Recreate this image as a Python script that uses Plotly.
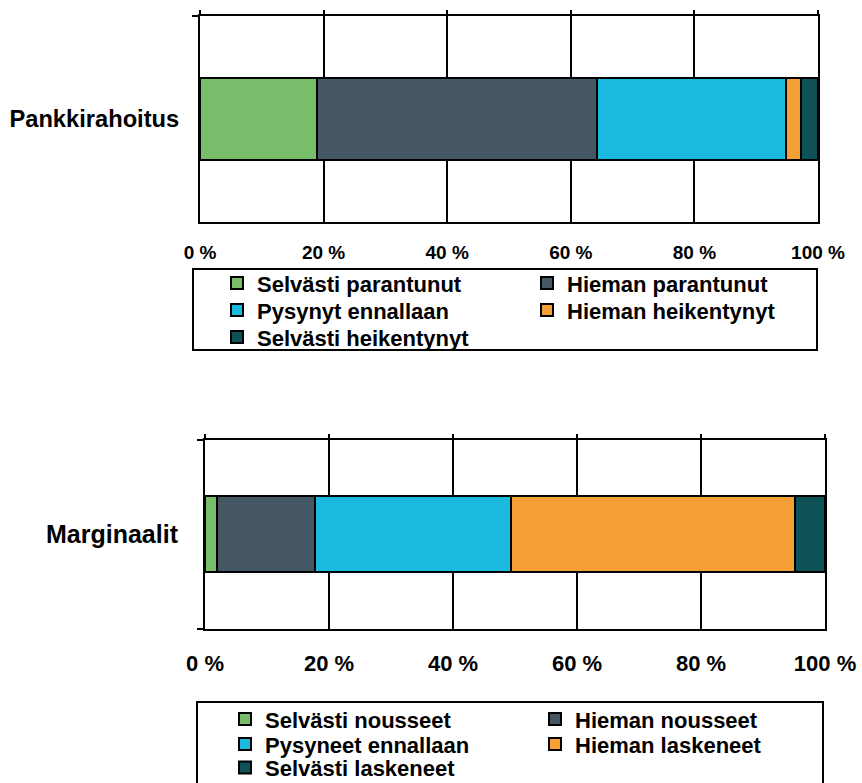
import plotly.graph_objects as go

# ---------------- data ----------------
categories_top = ["Pankkirahoitus"]
series_top = ["Selvästi parantunut", "Hieman parantunut", "Pysynyt ennallaan",
              "Hieman heikentynyt", "Selvästi heikentynyt"]
values_top = [19.0, 45.2, 30.7, 2.3, 2.8]

categories_bottom = ["Marginaalit"]
series_bottom = ["Selvästi nousseet", "Hieman nousseet", "Pysyneet ennallaan",
                 "Hieman laskeneet", "Selvästi laskeneet"]
values_bottom = [2.0, 15.8, 31.6, 45.8, 4.8]

colors = ["#78BE6A", "#455763", "#1AB9DE", "#F5A034", "#0E5258"]
tick_vals = [0, 20, 40, 60, 80, 100]
tick_text = ["0 %", "20 %", "40 %", "60 %", "80 %", "100 %"]

# ---------------- layout helpers ----------------
W, H = 862, 783
FONT = "Liberation Sans, Arial, sans-serif"


def px(x):
    return x / W


def py(y):
    return 1 - y / H


legend_rows_top = ["legend", "legend", "legend2", "legend2", "legend3"]
legend_rows_bottom = ["legend4", "legend4", "legend5", "legend5", "legend6"]

fig = go.Figure()
for name, val, col, lg in zip(series_top, values_top, colors, legend_rows_top):
    fig.add_trace(go.Bar(
        y=categories_top, x=[val], name=name, orientation="h", width=0.4,
        marker=dict(color=col, line=dict(color="black", width=2)),
        xaxis="x", yaxis="y", legend=lg, hoverinfo="name+x"))
for name, val, col, lg in zip(series_bottom, values_bottom, colors, legend_rows_bottom):
    fig.add_trace(go.Bar(
        y=categories_bottom, x=[val], name=name, orientation="h", width=0.4,
        marker=dict(color=col, line=dict(color="black", width=2)),
        xaxis="x2", yaxis="y2", legend=lg, hoverinfo="name+x"))

# empty helper traces so the top tick-stub axes get drawn
fig.add_trace(go.Scatter(x=[None], y=categories_top, xaxis="x3", yaxis="y",
                         mode="markers", showlegend=False, hoverinfo="skip"))
fig.add_trace(go.Scatter(x=[None], y=categories_bottom, xaxis="x4", yaxis="y2",
                         mode="markers", showlegend=False, hoverinfo="skip"))


def xaxis(domain, anchor, fsize, standoff):
    return dict(domain=domain, anchor=anchor, range=[0, 100], tickvals=tick_vals,
                ticktext=tick_text, showgrid=True, gridcolor="black", gridwidth=2,
                showline=True, linecolor="black", linewidth=2, mirror=True,
                ticks="", zeroline=False, fixedrange=True, ticklabelstandoff=standoff,
                tickfont=dict(family=FONT, size=fsize, color="black", weight="bold"))


def xaxis_top_ticks(over, anchor):
    return dict(overlaying=over, side="top", anchor=anchor, range=[0, 100],
                tickvals=tick_vals, ticks="outside", ticklen=5, tickwidth=2,
                tickcolor="black", showticklabels=False, showgrid=False,
                showline=False, zeroline=False, fixedrange=True)


def yaxis(domain, anchor, fsize, standoff):
    return dict(domain=domain, anchor=anchor, type="category", range=[-0.5, 0.5],
                tickson="boundaries", ticks="outside", ticklen=6, tickwidth=2,
                tickcolor="black", showline=True, linecolor="black", linewidth=2,
                mirror=True, showgrid=False, fixedrange=True, ticklabelstandoff=standoff,
                tickfont=dict(family=FONT, size=fsize, color="black", weight="bold"))


def legend(left, center_y):
    return dict(x=px(left), xanchor="left", y=py(center_y - 20.8), yanchor="top",
                orientation="h", entrywidth=265, entrywidthmode="pixels",
                traceorder="normal",
                bgcolor="rgba(0,0,0,0)", borderwidth=0,
                font=dict(family=FONT, size=22, color="black", weight="bold"))


fig.update_layout(
    width=W, height=H, margin=dict(l=0, r=0, t=0, b=0, autoexpand=False),
    paper_bgcolor="white", plot_bgcolor="white", barmode="stack",
    xaxis=xaxis([px(200), px(818)], "y", 19, 12),
    yaxis=yaxis([py(222), py(16)], "x", 23.7, 14),
    xaxis2=xaxis([px(205), px(825)], "y2", 22, 14),
    yaxis2=yaxis([py(629), py(439.5)], "x2", 25, 20),
    xaxis3=xaxis_top_ticks("x", "y"),
    xaxis4=xaxis_top_ticks("x2", "y2"),
    legend=legend(217, 283),
    legend2=legend(217, 310),
    legend3=legend(217, 337),
    legend4=legend(225, 719),
    legend5=legend(225, 744),
    legend6=legend(225, 767.5),
    shapes=[
        dict(type="rect", xref="paper", yref="paper", x0=px(193), x1=px(817),
             y0=py(350), y1=py(269), line=dict(color="black", width=2)),
        dict(type="rect", xref="paper", yref="paper", x0=px(197), x1=px(823),
             y0=py(810), y1=py(702), line=dict(color="black", width=2)),
    ],
    showlegend=True,
)

fig.write_html("out.html")
